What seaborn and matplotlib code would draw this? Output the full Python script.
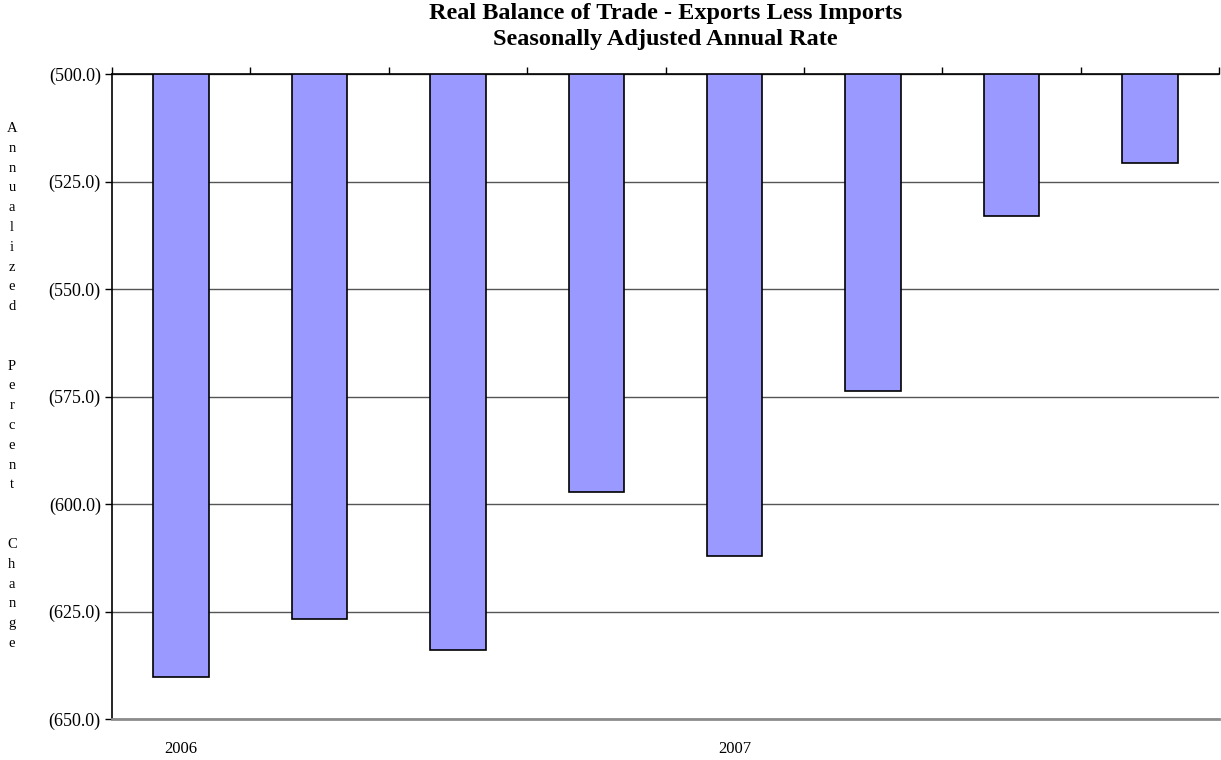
import numpy as np
import pandas as pd
import matplotlib
matplotlib.use("Agg")
import matplotlib.pyplot as plt
from matplotlib.ticker import FuncFormatter
import seaborn as sns

# Quarterly real balance of trade (billions, SAAR), 2006 Q1 - 2007 Q4
quarters = ["2006 Q1", "2006 Q2", "2006 Q3", "2006 Q4",
            "2007 Q1", "2007 Q2", "2007 Q3", "2007 Q4"]
balance = [-640.2, -626.7, -633.9, -597.2, -612.2, -573.8, -533.1, -520.8]
year_labels = ["2006", "", "", "", "2007", "", "", ""]
y_ticks = [-650, -625, -600, -575, -550, -525, -500]

df = pd.DataFrame({"quarter": quarters, "balance": balance})

sns.set_theme(style="white")
plt.rcParams["font.family"] = ["Liberation Serif", "DejaVu Serif"]
plt.rcParams["text.color"] = "black"
plt.rcParams["xtick.color"] = "black"
plt.rcParams["ytick.color"] = "black"

fig = plt.figure(figsize=(12.21, 7.6), dpi=100)
ax = fig.add_axes([0.0917, 0.0539, 0.9067, 0.8487])

sns.barplot(data=df, x="quarter", y="balance", ax=ax, color="#9999FF",
            saturation=1, width=0.4, edgecolor="black", linewidth=1.2)

ax.set_ylim(-650, -500)
ax.set_xlim(-0.5, len(quarters) - 0.5)
ax.set_yticks(y_ticks)
ax.yaxis.set_major_formatter(FuncFormatter(lambda v, p: f"({abs(v):.1f})"))
ax.tick_params(axis="y", which="major", left=True, direction="out",
               length=5, width=1, color="black", labelsize=13, pad=3)

# category labels at the bottom, boundary ticks along the top axis line
ax.set_xticks(range(len(quarters)))
ax.set_xticklabels(year_labels)
ax.tick_params(axis="x", which="major", bottom=False, top=False,
               labelsize=12, pad=10)
ax.set_xticks(np.arange(-0.5, len(quarters), 1.0), minor=True)
ax.tick_params(axis="x", which="minor", top=True, bottom=False,
               direction="out", length=5, width=1, color="black")

ax.yaxis.grid(True, color="#555555", linewidth=1)
ax.set_axisbelow(True)

ax.spines["right"].set_visible(False)
ax.spines["left"].set_color("black")
ax.spines["left"].set_linewidth(1.2)
ax.spines["top"].set_color("black")
ax.spines["top"].set_linewidth(1.2)
ax.spines["bottom"].set_color("#8c8c8c")
ax.spines["bottom"].set_linewidth(2)

ax.set_xlabel("")
ax.set_ylabel("")

fig.text(0.5448, 1 - 14 / 760, "Real Balance of Trade - Exports Less Imports",
         ha="center", va="center", fontsize=17.5, fontweight="bold")
fig.text(0.5448, 1 - 39 / 760, "Seasonally Adjusted Annual Rate",
         ha="center", va="center", fontsize=17.5, fontweight="bold")

# stacked vertical axis title
label = "Annualized  Percent  Change"
fig.text(12 / 1221, 1 - 386 / 760, "\n".join(label), ha="center",
         va="center", fontsize=10.5, linespacing=1.68)

fig.savefig("out.png", dpi=100)
